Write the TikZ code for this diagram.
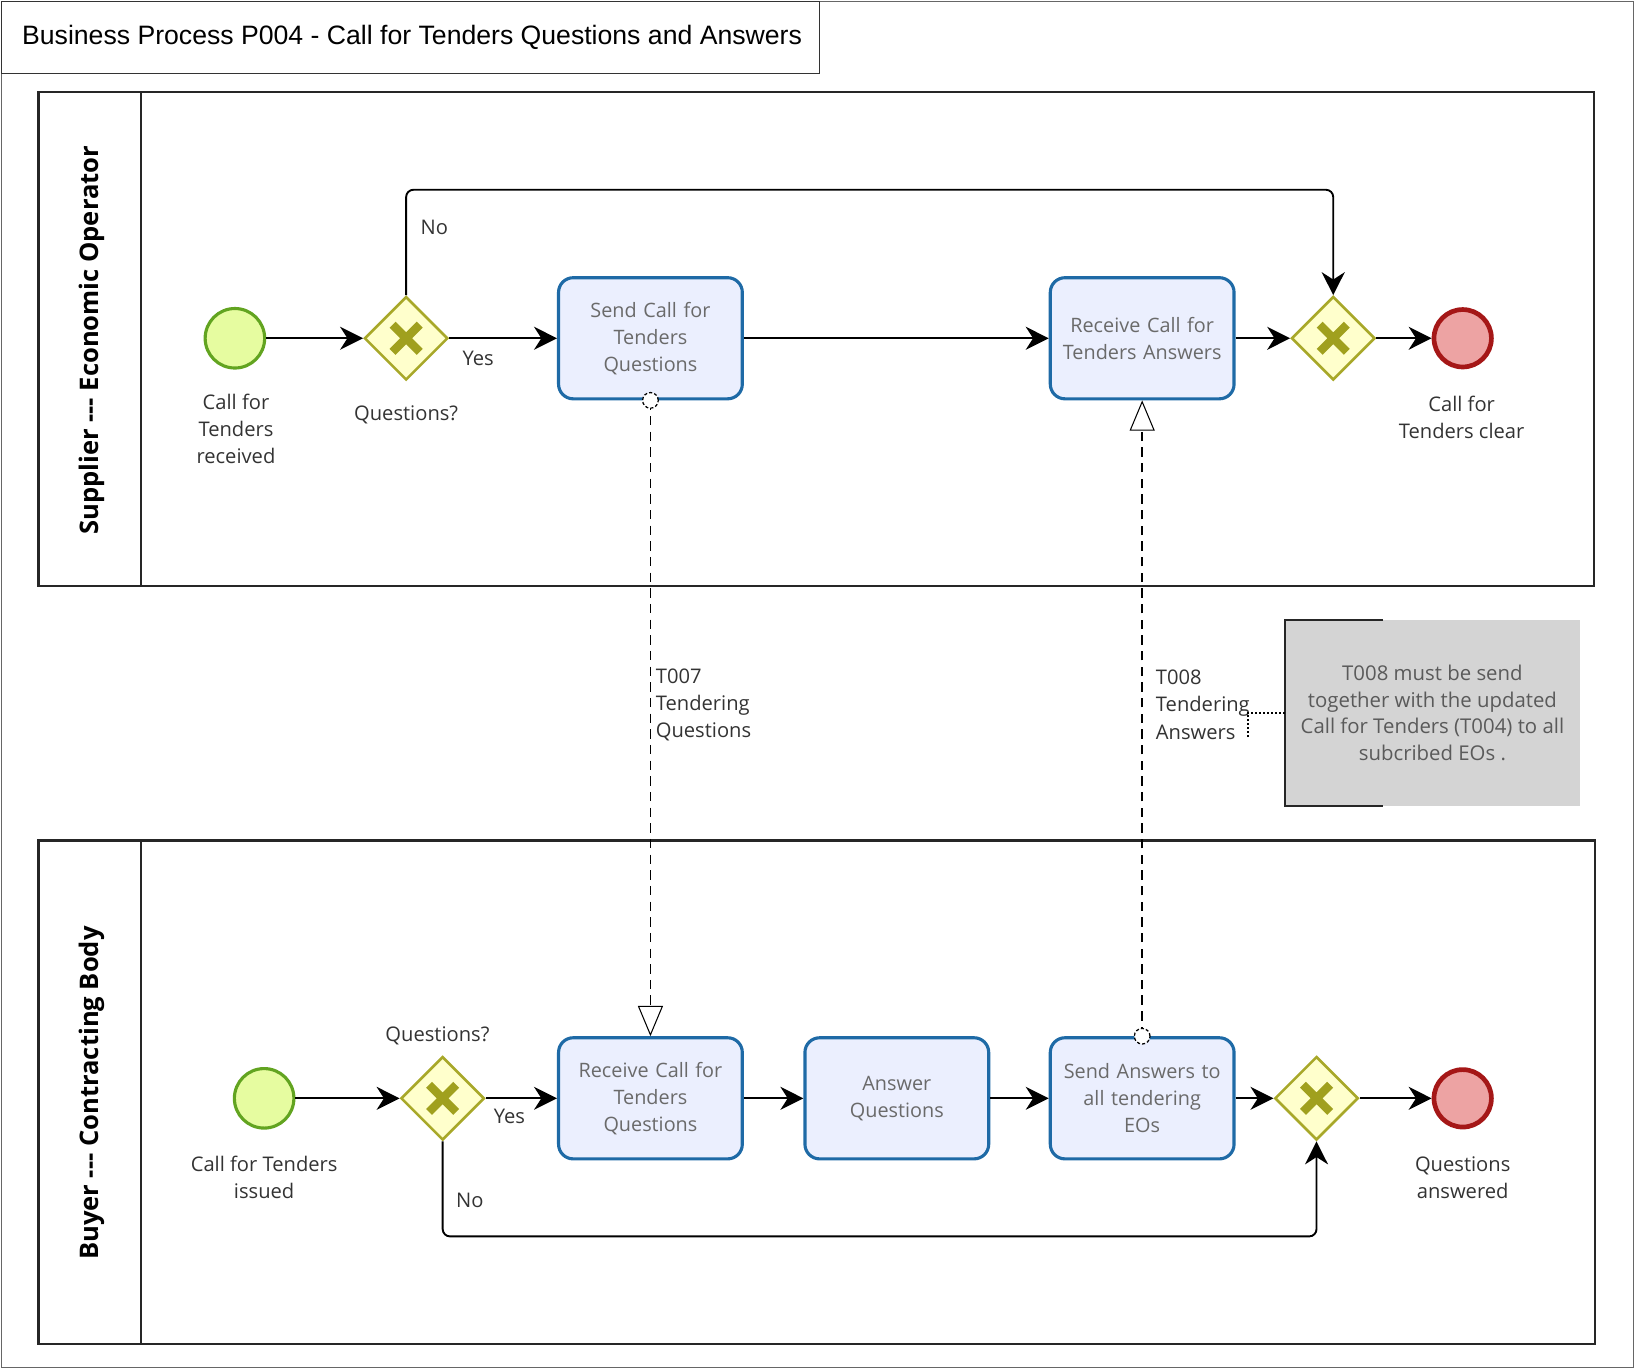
\documentclass[tikz,border=0pt]{standalone}
\usepackage{fontspec}
\setmainfont{Open Sans}
\newfontfamily\titlefont{Liberation Sans}
\usetikzlibrary{shapes.geometric,arrows.meta}
\definecolor{startfill}{HTML}{E6FCA0}
\definecolor{startline}{HTML}{62A420}
\definecolor{endfill}{HTML}{EDA3A3}
\definecolor{endline}{HTML}{A51717}
\definecolor{gatefill}{HTML}{FFFFCC}
\definecolor{gateline}{HTML}{A8A829}
\definecolor{gatemark}{HTML}{A0A01E}
\definecolor{taskfill}{HTML}{EBEFFE}
\definecolor{taskline}{HTML}{1E6AA6}
\definecolor{tasktext}{HTML}{6A6A6A}
\definecolor{labeltext}{HTML}{333333}
\definecolor{notefill}{HTML}{D4D4D4}
\definecolor{notetext}{HTML}{5A5A5A}
\begin{document}
\begin{tikzpicture}
[x=1pt,y=-1pt,
  lanedecorate/.style={draw=black!85,line width=2.2pt},%
  taskdecorate/.style={shape=rectangle,rounded corners=14pt,draw=taskline,fill=taskfill,
    line width=3pt,minimum width=176pt,minimum height=116pt,text width=168pt,
    align=center,text=tasktext,font=\fontsize{19}{26}\selectfont},%
  startdecorate/.style={shape=circle,inner sep=0pt,minimum size=57pt,draw=startline,
    fill=startfill,line width=3pt},%
  enddecorate/.style={shape=circle,inner sep=0pt,minimum size=55pt,draw=endline,
    fill=endfill,line width=4.5pt},%
  gatedecorate/.style={shape=diamond,inner sep=0pt,minimum width=80pt,minimum height=80pt,
    draw=gateline,fill=gatefill,line width=2.5pt,
    path picture={\draw[gatemark,line width=8pt]
      ([shift={(-13,-13)}]path picture bounding box.center) -- ([shift={(13,13)}]path picture bounding box.center)
      ([shift={(-13,13)}]path picture bounding box.center) -- ([shift={(13,-13)}]path picture bounding box.center);}},%
  labeldecorate/.style={align=center,text=labeltext,inner sep=1pt,font=\fontsize{19.3}{26}\selectfont},%
  flowdecorate/.style={-{Stealth[length=22pt,width=22pt,inset=7pt]},line width=1.8pt},%
  msgdecorate/.style={dash pattern=on 9pt off 6pt,line width=1.5pt,
    -{Triangle[open,length=29pt,width=24pt,line width=1pt,fill=white]}},%
  msgstartdecorate/.style={shape=circle,inner sep=0pt,minimum size=15pt,draw,
    densely dashed,line width=1.2pt,fill=white},%
  assocdecorate/.style={dotted,line width=1.8pt}]
\useasboundingbox (0,0) rectangle (1567,1311);
%% frame and title
\draw[black!60,line width=1pt] (1,1) rectangle (1565,1310);
\draw[black!80,line width=1pt] (1,1) rectangle (785,70);
\node (title) at (21,36) [anchor=west,inner sep=0pt,
  font=\titlefont\fontsize{25.5}{30}\selectfont] {Business Process P004 - Call for Tenders Questions and Answers};
%% lanes
\draw[lanedecorate] (37,88) rectangle (1527,561) (135,88) -- (135,561);
\draw[lanedecorate] (37,805) rectangle (1528,1287) (135,805) -- (135,1287);
\node (supplier) at (88,326) [rotate=90,font=\bfseries\fontsize{24.5}{28}\selectfont] {Supplier -{}-{}- Economic Operator};
\node (buyer) at (88,1047) [rotate=90,font=\bfseries\fontsize{24.5}{28}\selectfont] {Buyer -{}-{}- Contracting Body};
%% nodes or vertices
\foreach \nodename/\x/\y/\kind in {
  sa/225/324/startdecorate, ea/1401/324/enddecorate,
  sb/253/1052/startdecorate, eb/1401/1052/enddecorate,
  ga/389/324/gatedecorate, gb/1277/324/gatedecorate,
  gc/424/1052/gatedecorate, gd/1261/1052/gatedecorate}
{
  \node (\nodename) at (\x,\y) [\kind] {};
}
\foreach \nodename/\x/\y/\caption in {
  sndq/623/324/{Send Call for\\Tenders\\Questions},
  rcva/1094/324/{Receive Call for\\Tenders Answers},
  rcvq/623/1052/{Receive Call for\\Tenders\\Questions},
  answ/859/1052/{Answer\\Questions},
  snda/1094/1052/{Send Answers to\\all tendering\\EOs}}
{
  \node (\nodename) at (\x,\y) [taskdecorate] {\caption};
}
%% labels
\node (lsa) at (226,411) [labeldecorate] {Call for\\Tenders\\received};
\node (lga) at (389,397) [labeldecorate] {Questions?};
\node (lea) at (1400,400) [labeldecorate] {Call for\\Tenders clear};
\node (lsb) at (253,1128) [labeldecorate] {Call for Tenders\\issued};
\node (lgc) at (419,992) [labeldecorate] {Questions?};
\node (leb) at (1401,1128) [labeldecorate] {Questions\\answered};
\node (yesa) at (458,343) [labeldecorate] {Yes};
\node (noa) at (416,218) [labeldecorate] {No};
\node (yesc) at (488,1069) [labeldecorate] {Yes};
\node (noc) at (450,1150) [labeldecorate] {No};
%% edges or lines
\path
\foreach \startnode/\endnode in {sa/ga, ga/sndq, sndq/rcva, rcva/gb, gb/ea,
  sb/gc, gc/rcvq, rcvq/answ, answ/snda, snda/gd, gd/eb} {
  (\startnode) edge[flowdecorate] (\endnode)
};
\draw[flowdecorate,rounded corners=7pt] (ga.north) -- ++(0,-101) -| (gb.north);
\draw[flowdecorate,rounded corners=7pt] (gc.south) -- ++(0,91) -| (gd.south);
%% messages
\draw[msgdecorate] (sndq.south) -- (rcvq.north);
\draw[msgdecorate] (snda.north) -- (rcva.south);
\node (msa) at (sndq.south) [msgstartdecorate] {};
\node (msb) at (snda.north) [msgstartdecorate] {};
\node (t007) at (627,675) [labeldecorate,anchor=west,align=left] {T007\\Tendering\\Questions};
\node (t008) at (1106,675) [labeldecorate,anchor=west,align=left] {T008\\Tendering\\Answers};
%% annotation
\node (note) at (1372,683) [shape=rectangle,fill=notefill,minimum width=282pt,minimum height=178pt,
  align=center,text=notetext,font=\fontsize{19.5}{25.5}\selectfont]
  {T008 must be send\\together with the updated\\Call for Tenders (T004) to all\\subcribed EOs .};
\draw[black!85,line width=2pt] ([xshift=94pt]note.north west) -- (note.north west)
  -- (note.south west) -- ([xshift=94pt]note.south west);
\coordinate (asc) at (1195,706);
\draw[assocdecorate] (asc) |- (note.west);
\end{tikzpicture}
\end{document}
